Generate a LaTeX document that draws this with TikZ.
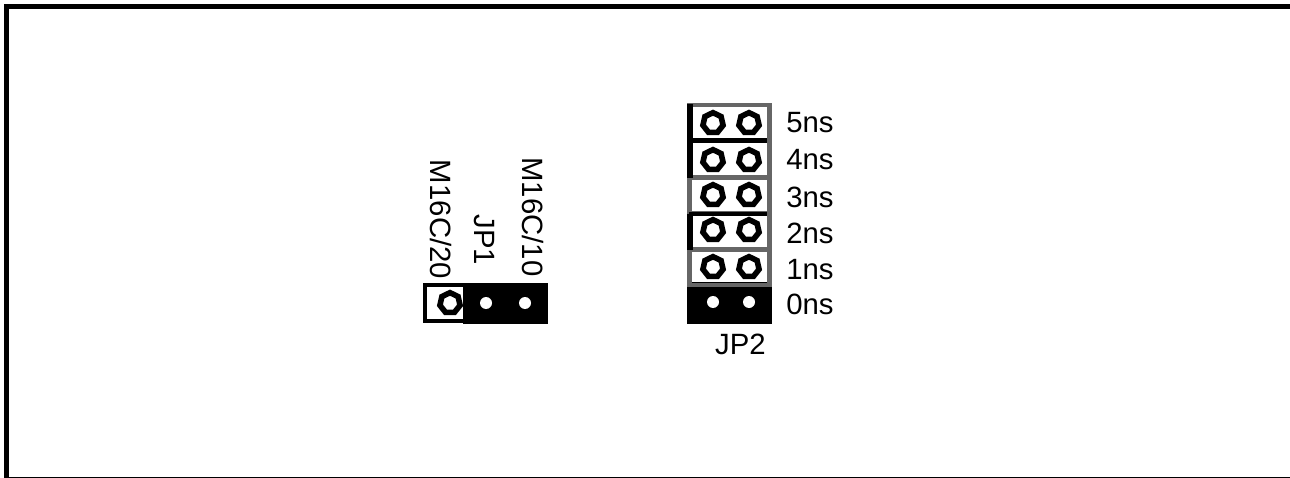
\documentclass[tikz,border=0pt]{standalone}
\usepackage{fontspec}
\setmainfont{Liberation Sans}
\usetikzlibrary{shapes.geometric}
\tikzset{
	pinopen/.style={regular polygon, regular polygon sides=7, draw=black, line width=4.2pt, fill=white, minimum size=15.5pt, inner sep=0pt},
	pinshort/.style={circle, fill=white, minimum size=9pt, inner sep=0pt},
	lbl/.style={font=\fontsize{22}{26}\selectfont, inner sep=0pt},
}
\begin{document}
\begin{tikzpicture}[x=0.75pt, y=-0.75pt]
		%%%%% frame %%%%%
		\useasboundingbox (0, 0) rectangle (1290, 478);
		\fill (4, 4) rectangle (1290, 9);
		\fill (4, 4) rectangle (9, 478);
		\fill (9, 476.5) rectangle (1290, 478);

		%%%%% JP1 %%%%%
		\fill (463, 283) rectangle (548, 324);
		\draw[line width=3pt] (425, 285) rectangle (465, 321);
		\node[pinopen] (pa) at (450, 303) {};
		\node[pinshort] (pb) at (486, 303) {};
		\node[pinshort] (pc) at (525, 303) {};
		\node[lbl, rotate=-90] (m20) at (441, 219.5) {M16C/20};
		\node[lbl, rotate=-90] (jp1) at (484, 240) {JP1};
		\node[lbl, rotate=-90] (m10) at (533, 217) {M16C/10};

		%%%%% JP2 %%%%%
		\fill (687, 282) rectangle (772, 324);
		\foreach \row/\ya/\yb/\yc/\yt/\col in {5/105/140.5/123/122.5/black!60, 4/140.5/177.5/160/160/black!60, 3/177.5/213.5/195/197/black!60, 2/213.5/249.5/230/233.5/black!60, 1/249.5/285/267/270/black!60} {
			\draw[line width=3.4pt, draw=\col] (689.5, \ya) rectangle (769.5, \yb);
			\node[pinopen] (p\row a) at (713, \yc) {};
			\node[pinopen] (p\row b) at (749, \yc) {};
			\node[lbl, anchor=west] (t\row) at (786, \yt) {\row ns};
		}
		\draw[line width=4.4pt] (690, 104) -- (690, 177.5);
		\draw[line width=4.4pt] (690, 213.5) -- (690, 249.5);
		\draw[line width=3.4pt] (689, 140.5) -- (767, 140.5);
		\draw[line width=3pt] (689, 213.5) -- (767, 213.5);
		\node[pinshort] (p0a) at (713, 302) {};
		\node[pinshort] (p0b) at (749, 302) {};
		\node[lbl, anchor=west] (t0) at (786, 304) {0ns};
		\node[lbl] (jp2) at (740.5, 344) {JP2};
\end{tikzpicture}
\end{document}
